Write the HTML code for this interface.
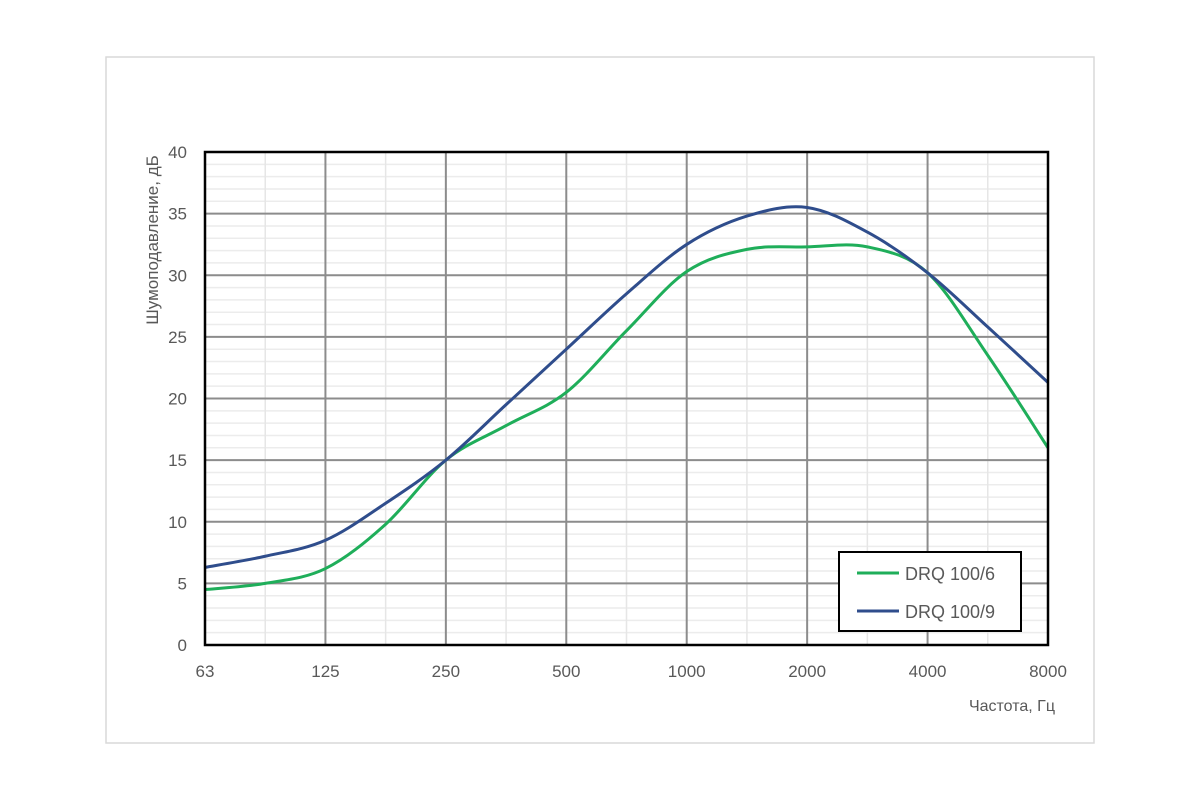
<!DOCTYPE html>
<html><head><meta charset="utf-8"><style>
body{margin:0;background:#fff;}
svg text{font-family:"Liberation Sans",sans-serif;fill:#595959;}
</style></head><body>
<svg id="chart" width="1200" height="800">
<rect x="106" y="57" width="988" height="686" fill="#fff" stroke="#d9d9d9" stroke-width="1.5"/>
<g id="grid"></g>
<g id="series"></g>
<rect x="205" y="152" width="843" height="493" fill="none" stroke="#000" stroke-width="2.5"/>
<g id="labels"></g>
<text x="158" y="240" font-size="17" text-anchor="middle" transform="rotate(-90 158 240)">Шумоподавление, дБ</text>
<text x="1055" y="711" font-size="16" text-anchor="end">Частота, Гц</text>
<g>
<rect x="839" y="552" width="182" height="79" fill="#fff" stroke="#000" stroke-width="2"/>
<line x1="857" y1="573" x2="899" y2="573" stroke="#1fae5a" stroke-width="3"/>
<text x="905" y="580" font-size="18">DRQ 100/6</text>
<line x1="857" y1="611" x2="899" y2="611" stroke="#2f4d8c" stroke-width="3"/>
<text x="905" y="618" font-size="18">DRQ 100/9</text>
</g>
</svg>
<script>
const categories=["63","125","250","500","1000","2000","4000","8000"];
const yTicks=[0,5,10,15,20,25,30,35,40];
// values at half-octave steps (0, 0.5, 1, ... 7)
const drq6=[4.5,5.0,6.2,9.8,15,17.8,20.5,25.5,30.3,32.1,32.3,32.3,30.2,23.5,16];
const drq9=[6.3,7.2,8.5,11.5,15,19.5,24,28.5,32.5,34.8,35.5,33.5,30.2,25.8,21.3];
const X0=205,X1=1048,Y0=645,Y1=152,YMAX=40;
const xs=i=>X0+(X1-X0)*i/(categories.length-1);
const ys=v=>Y0-(Y0-Y1)*v/YMAX;
const NS="http://www.w3.org/2000/svg";
const grid=document.getElementById('grid'),labels=document.getElementById('labels'),ser=document.getElementById('series');
function ln(p,x1,y1,x2,y2,c,w){const l=document.createElementNS(NS,'line');l.setAttribute('x1',x1);l.setAttribute('y1',y1);l.setAttribute('x2',x2);l.setAttribute('y2',y2);l.setAttribute('stroke',c);l.setAttribute('stroke-width',w);p.appendChild(l);return l;}
for(let v=0;v<=YMAX;v++){if(v%5){const l=ln(grid,X0,ys(v),X1,ys(v),'#ececec',1.5);

}}
for(let i=0;i<categories.length-1;i++){const l=ln(grid,xs(i+0.5),Y1,xs(i+0.5),Y0,'#e6e6e6',1.5);

}
yTicks.forEach(v=>{const l=ln(grid,X0,ys(v),X1,ys(v),'#8c8c8c',2);


const t=document.createElementNS(NS,'text');t.setAttribute('x',187);t.setAttribute('y',ys(v)+6);t.setAttribute('font-size','17');t.setAttribute('text-anchor','end');t.textContent=v;


labels.appendChild(t);});
categories.forEach((c,i)=>{const l=ln(grid,xs(i),Y1,xs(i),Y0,'#8c8c8c',2);


const t=document.createElementNS(NS,'text');t.setAttribute('x',xs(i));t.setAttribute('y',677);t.setAttribute('font-size','17');t.setAttribute('text-anchor','middle');t.textContent=c;


labels.appendChild(t);});
function path(vals){const p=vals.map((v,i)=>[xs(i/2),ys(v)]);let d='M'+p[0][0]+','+p[0][1];
for(let i=0;i<p.length-1;i++){const a=p[Math.max(i-1,0)],b=p[i],c=p[i+1],e=p[Math.min(i+2,p.length-1)];
d+=' C'+(b[0]+(c[0]-a[0])/6)+','+(b[1]+(c[1]-a[1])/6)+' '+(c[0]-(e[0]-b[0])/6)+','+(c[1]-(e[1]-b[1])/6)+' '+c[0]+','+c[1];}return d;}
[[drq6,'#1fae5a','line-drq-100-6'],[drq9,'#2f4d8c','line-drq-100-9']].forEach(([v,c,n])=>{const p=document.createElementNS(NS,'path');p.setAttribute('d',path(v));p.setAttribute('fill','none');p.setAttribute('stroke',c);p.setAttribute('stroke-width','3');


ser.appendChild(p);});
</script>
</body></html>
